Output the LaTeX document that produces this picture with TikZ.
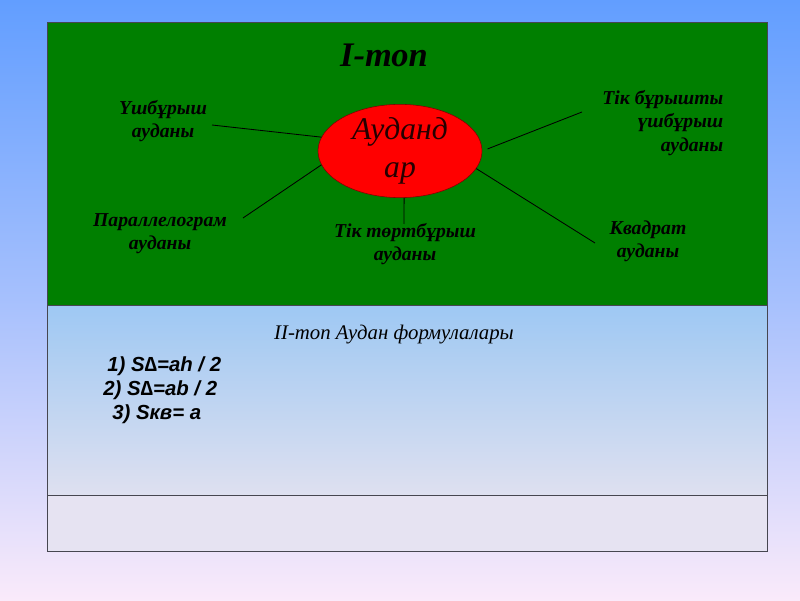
\documentclass[tikz,border=0pt]{standalone}
\usepackage{fontspec}
\setmainfont{Liberation Serif}
\newfontfamily\formfont{Liberation Sans}
\usepackage{xcolor}
\usetikzlibrary{shapes.geometric}
\definecolor{slidetop}{RGB}{98,158,255}
\definecolor{slidebot}{RGB}{250,234,250}
\definecolor{topgreen}{HTML}{007F00}
\definecolor{paneltop}{RGB}{158,200,243}
\definecolor{panelbot}{RGB}{222,224,240}
\definecolor{notegray}{RGB}{230,227,242}
\definecolor{framegray}{RGB}{70,70,80}

\begin{document}
\begin{tikzpicture}[x=1cm,y=1cm,
    lbl/.style={align=center,inner sep=1pt,font=\fontsize{14}{16.5}\selectfont\bfseries\itshape},
    spoke/.style={draw=black,line width=0.6pt},
    formula/.style={anchor=west,inner sep=0pt,font=\formfont\fontsize{14.5}{17}\selectfont\bfseries\itshape}]
      % slide background
      \shade[top color=slidetop,bottom color=slidebot,middle color=slidetop!55!slidebot] (0,0) rectangle (20,15);
      \useasboundingbox (0,0) rectangle (20,15);
      % three panels
      \fill[topgreen] (1.175,7.375) rectangle (19.175,14.45);
      \shade[top color=paneltop,bottom color=panelbot] (1.175,2.625) rectangle (19.175,7.375);
      \fill[notegray] (1.175,1.225) rectangle (19.175,2.625);
      \draw[framegray,line width=0.7pt] (1.175,1.225) rectangle (19.175,14.45);
      \draw[framegray,line width=0.7pt] (1.175,7.375) -- (19.175,7.375);
      \draw[framegray,line width=0.7pt] (1.175,2.625) -- (19.175,2.625);

      \node[font=\fontsize{24.5}{28}\selectfont\bfseries\itshape] (title) at (9.6,13.625) {I-топ};
      \node[ellipse,draw=red!50!black,fill=red,minimum width=4.1cm,minimum height=2.0cm,inner sep=0pt,align=center,
            text=black!85!red,font=\fontsize{22.5}{26.5}\selectfont\itshape] (ell) at (10,11.225) {Ауданд\\ар};

      \node[lbl] (tri) at (4.075,11.975) {Үшбұрыш\\ауданы};
      \node[lbl] (par) at (4.0,9.15) {Параллелограм\\ауданы};
      \node[lbl] (rect) at (10.125,8.9) {Тік төртбұрыш\\ауданы};
      \node[lbl,align=right,anchor=east] (rtri) at (18.125,11.925) {Тік бұрышты\\үшбұрыш\\ауданы};
      \node[lbl] (sq) at (16.2,8.975) {Квадрат\\ауданы};

      \coordinate (tri-e) at (5.3,11.875);
      \coordinate (par-e) at (6.075,9.55);
      \coordinate (rect-e) at (10.1,9.4);
      \coordinate (rtri-e) at (14.55,12.2);
      \coordinate (sq-e) at (14.875,8.925);
      \draw[spoke] (ell.170) -- (tri-e);
      \draw[spoke] (ell.190) -- (par-e);
      \draw[spoke] (ell.275) -- (rect-e);
      \draw[spoke,shorten <=4pt] (ell.east) -- (rtri-e);
      \draw[spoke] (ell.-13) -- (sq-e);

      \node[font=\fontsize{14.8}{17}\selectfont\itshape] (sub) at (9.85,6.625) {II-топ Аудан формулалары};
      \node[formula] (f1) at (2.675,5.85) {1) S∆=ah / 2};
      \node[formula] (f2) at (2.575,5.25) {2) S∆=ab / 2};
      \node[formula] (f3) at (2.8,4.65) {3) Sкв= a};
    \end{tikzpicture}
\end{document}
